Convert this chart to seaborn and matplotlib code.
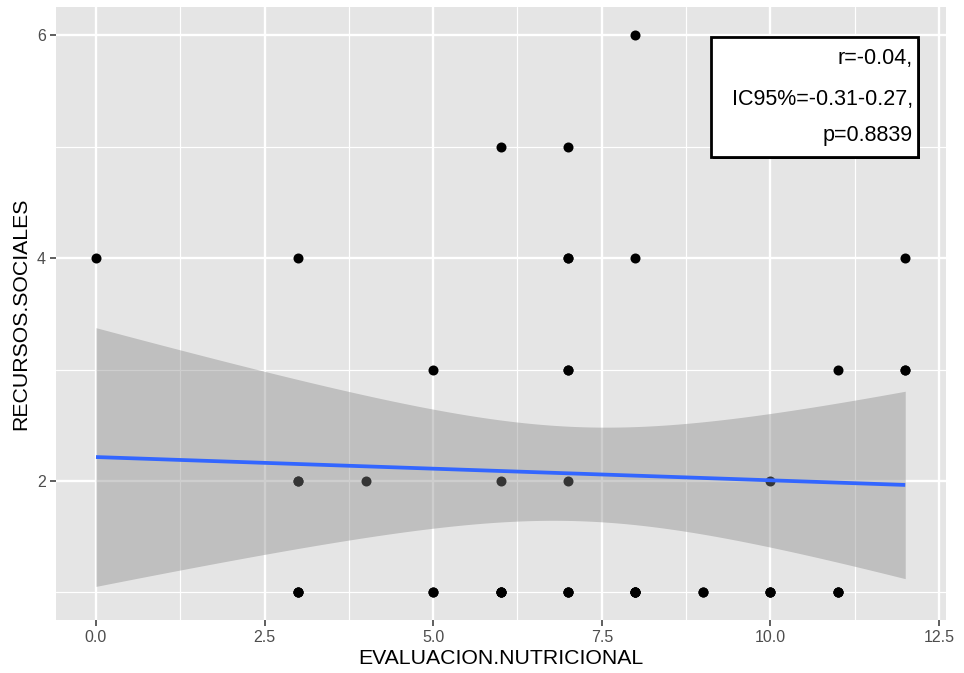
import numpy as np
import pandas as pd
import matplotlib
matplotlib.use("Agg")
import matplotlib.pyplot as plt
import seaborn as sns
from matplotlib.patches import Rectangle
from matplotlib import patheffects as pe

# Observations grouped by RECURSOS.SOCIALES score
x_rs1 = [3, 3, 3, 5, 5, 6, 6, 6, 6, 7, 7, 7, 8, 8, 8, 8, 8, 9, 9, 10, 10, 10, 11, 11, 11]
x_rs2 = [3, 3, 4, 6, 7, 10]
x_rs3 = [5, 7, 7, 11, 12, 12]
x_rs4 = [0, 3, 7, 7, 8, 12]
x_rs5 = [6, 7]
x_rs6 = [8]

evaluacion = x_rs1 + x_rs2 + x_rs3 + x_rs4 + x_rs5 + x_rs6
recursos = ([1] * len(x_rs1) + [2] * len(x_rs2) + [3] * len(x_rs3)
            + [4] * len(x_rs4) + [5] * len(x_rs5) + [6] * len(x_rs6))

stats_lines = ["r=-0.04,", "IC95%=-0.31-0.27,", "p=0.8839"]

x_ticks = [0.0, 2.5, 5.0, 7.5, 10.0, 12.5]
x_tick_labels = ["0.0", "2.5", "5.0", "7.5", "10.0", "12.5"]
y_ticks = [2, 4, 6]

df = pd.DataFrame({"EVALUACION.NUTRICIONAL": evaluacion,
                   "RECURSOS.SOCIALES": recursos})

sns.set_theme(style="darkgrid")
plt.rcParams["font.family"] = ["Liberation Sans", "DejaVu Sans"]

fig = plt.figure(figsize=(9.64, 6.73), dpi=100)
ax = fig.add_axes([0.0576, 0.0782, 0.9234, 0.9112])
ax.set_facecolor("#E5E5E5")
ax.set_axisbelow(True)

# points
sns.scatterplot(data=df, x="EVALUACION.NUTRICIONAL", y="RECURSOS.SOCIALES",
                color="black", s=52, linewidth=0, ax=ax, zorder=2)

# linear fit line
sns.regplot(data=df, x="EVALUACION.NUTRICIONAL", y="RECURSOS.SOCIALES",
            scatter=False, ci=None, truncate=True, color="#3366FF",
            line_kws=dict(lw=2.7, zorder=4, solid_capstyle="butt"), ax=ax)

# analytic 95% confidence band of the linear fit
xv = np.asarray(evaluacion, dtype=float)
yv = np.asarray(recursos, dtype=float)
n = len(xv)
slope, intercept = np.polyfit(xv, yv, 1)
resid = yv - (intercept + slope * xv)
s = np.sqrt(np.sum(resid ** 2) / (n - 2))
sxx = np.sum((xv - xv.mean()) ** 2)
nu = n - 2
z = 1.959963985
tq = (z + (z ** 3 + z) / (4 * nu)
      + (5 * z ** 5 + 16 * z ** 3 + 3 * z) / (96 * nu ** 2)
      + (3 * z ** 7 + 19 * z ** 5 + 17 * z ** 3 - 15 * z) / (384 * nu ** 3))
xg = np.linspace(xv.min(), xv.max(), 200)
fit = intercept + slope * xg
half = tq * s * np.sqrt(1.0 / n + (xg - xv.mean()) ** 2 / sxx)
ax.fill_between(xg, fit - half, fit + half, color="#868686", alpha=0.4,
                linewidth=0, zorder=3)

ax.set_xlim(-0.6, 12.6)
ax.set_ylim(0.75, 6.25)
ax.set_xticks(x_ticks)
ax.set_xticklabels(x_tick_labels)
ax.set_yticks(y_ticks)
ax.set_xticks([1.25, 3.75, 6.25, 8.75, 11.25], minor=True)
ax.set_yticks([1, 3, 5], minor=True)
ax.grid(which="major", color="white", linewidth=1.7)
ax.grid(which="minor", color="white", linewidth=0.85)
ax.tick_params(which="major", length=4, width=1.1, color="#333333",
               labelcolor="#4D4D4D", labelsize=11.5, pad=3)
ax.tick_params(which="minor", length=0)
ax.tick_params(axis="x", bottom=True)
ax.tick_params(axis="y", left=True)
for sp in ax.spines.values():
    sp.set_visible(False)

ax.set_xlabel("EVALUACION.NUTRICIONAL", fontsize=15.3, color="black", labelpad=3)
ax.set_ylabel("RECURSOS.SOCIALES", fontsize=15.3, color="black", labelpad=5)

# statistics box
box = Rectangle((0.7364, 0.7556), 0.2325, 0.1956, transform=ax.transAxes,
                facecolor="white", edgecolor="black", linewidth=2, zorder=5)
box.set_path_effects([pe.SimplePatchShadow(offset=(1.5, -1.5),
                                           shadow_rgbFace="black", alpha=1),
                      pe.Normal()])
ax.add_patch(box)
for line, yb in zip(stats_lines, [0.9072, 0.8404, 0.7817]):
    ax.text(0.9633, yb, line, transform=ax.transAxes, ha="right",
            va="baseline", fontsize=15.5, color="black", zorder=6)

fig.savefig("out.png", dpi=100)
